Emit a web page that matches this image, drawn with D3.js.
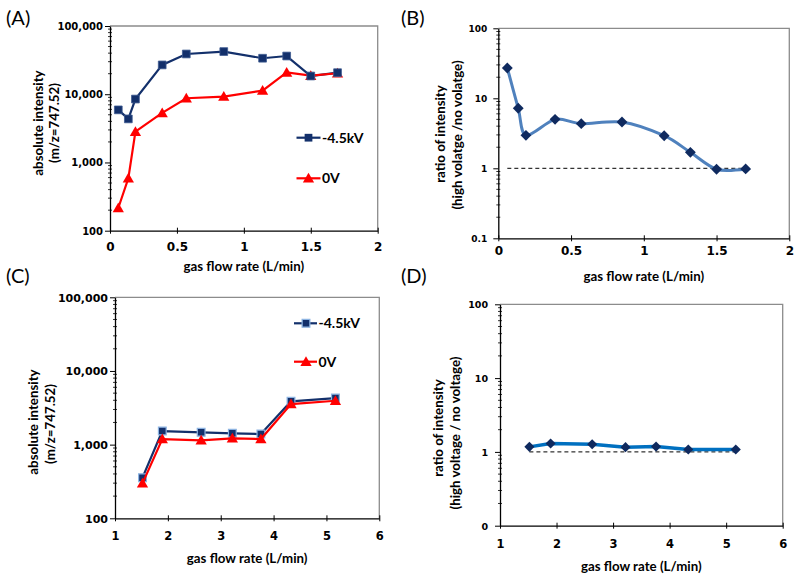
<!DOCTYPE html>
<html><head><meta charset="utf-8">
<script src="https://cdn.jsdelivr.net/npm/d3@7"></script>
<style>
body{margin:0;background:#fff;}
svg{display:block;}
.tick text{font-family:"DejaVu Sans",sans-serif;font-weight:bold;fill:#000;}
.ttl{font-family:Lato,"Open Sans",sans-serif;font-weight:bold;font-size:13.3px;fill:#000;}
.plab{font-family:Lato,"Open Sans",sans-serif;font-size:20px;fill:#000;}
.leg{font-family:Lato,"Open Sans",sans-serif;font-weight:bold;font-size:14px;fill:#000;}
</style></head>
<body>
<svg id="c" width="800" height="581"></svg>
<script>
// ---- data ----
const flowA = [0.062, 0.137, 0.19, 0.39, 0.57, 0.85, 1.14, 1.32, 1.50, 1.70];
const hvA   = [5900, 4350, 8500, 26900, 38900, 42200, 33700, 36300, 18500, 20700];
const zvA   = [215, 586, 2830, 5320, 8740, 9230, 11300, 20900, 18700, 20300];
const ratioB = [27.1, 7.2, 2.96, 5.0, 4.34, 4.58, 2.92, 1.69, 0.97, 0.98];
const flowC = [1.52, 1.895, 2.63, 3.22, 3.76, 4.33, 5.17];
const hvC   = [356, 1530, 1470, 1424, 1393, 3870, 4290];
const zvC   = [298, 1190, 1143, 1217, 1190, 3556, 3945];
const ratioD = [1.17, 1.30, 1.27, 1.16, 1.18, 1.08, 1.08];
const seriesNames = ["-4.5kV", "0V"];
const xTicksAB = [0, 0.5, 1, 1.5, 2];
const xTicksCD = [1, 2, 3, 4, 5, 6];
const yTicksInt = [100, 1000, 10000, 100000];
const yTicksRatio = [0.1, 1, 10, 100];

const svg = d3.select("#c");
const NAVY = "#13306b", RED = "#ff0000";

function panel(o){
  const g = svg.append("g");
  const x = d3.scaleLinear().domain(o.xd).range([o.l, o.r]);
  const y = d3.scaleLog().domain(o.yd).range([o.b, o.t]);
  g.append("path").attr("d",`M${o.l},${o.t}H${o.r}V${o.b}`).attr("fill","none").attr("stroke","#8c8c8c").attr("stroke-width",1.3);
  const minors = [];
  const [y0,y1] = o.yd;
  for(let e=Math.round(Math.log10(y0)); e<Math.round(Math.log10(y1)); e++){
    for(let k=2;k<10;k++) minors.push(k*Math.pow(10,e));
  }
  g.selectAll(".mn").data(minors).join("line")
    .attr("x1",o.l-2).attr("x2",o.l+2).attr("y1",d=>y(d)).attr("y2",d=>y(d))
    .attr("stroke","#000").attr("stroke-width",0.8);
  const ya = g.append("g").attr("transform",`translate(${o.l},0)`)
    .call(d3.axisLeft(y).tickValues(o.yt).tickFormat(o.yf).tickSizeInner(5).tickSizeOuter(0).tickPadding(o.ypad));
  ya.select(".domain").attr("stroke","#000").attr("stroke-width",1.3);
  ya.selectAll(".tick line").attr("stroke","#000").attr("stroke-width",1);
  ya.selectAll(".tick text").attr("font-size",o.yfs+"px").attr("dy","0.35em");
  const xa = g.append("g").attr("transform",`translate(0,${o.b})`)
    .call(d3.axisBottom(x).tickValues(o.xt).tickFormat(d=>d3.format("~g")(d)).tickSizeInner(3).tickSizeOuter(0).tickPadding(o.xpad));
  xa.select(".domain").attr("stroke","#000").attr("stroke-width",1.3);
  xa.selectAll(".tick line").attr("y1",-3).attr("stroke","#000");
  xa.selectAll(".tick text").attr("font-size",o.xfs+"px");
  g.append("text").attr("class","ttl").attr("x",(o.l+o.r)/2).attr("y",o.xty).attr("text-anchor","middle").text("gas flow rate (L/min)");
  o.ytl.forEach((t,i)=>{
    g.append("text").attr("class","ttl").attr("text-anchor","middle")
      .attr("transform",`translate(${o.ytx[i]},${o.yty[i]}) rotate(-90)`).attr("dy","0.35em").text(t);
  });
  g.append("text").attr("class","plab").attr("x",o.px).attr("y",o.py).text(o.lab);
  return {g,x,y};
}

const fmtInt = d3.format(",");
function sym(type,size){ return d3.symbol().type(type).size(size)(); }

// ---------- A ----------
{
  const P = panel({l:110,r:377.7,t:26,b:230.7,xd:[0,2],yd:[100,100000],xt:xTicksAB,yt:yTicksInt,yf:fmtInt,ypad:2,yfs:10,xfs:12,xpad:8.5,
    xty:271,ytl:["absolute intensity","(m/z=747.52)"],ytx:[38,54],yty:[123,123],px:6,py:25,lab:"(A)"});
  const line = d3.line().x(d=>P.x(d[0])).y(d=>P.y(d[1]));
  const dh = flowA.map((f,i)=>[f,hvA[i]]), dz = flowA.map((f,i)=>[f,zvA[i]]);
  P.g.append("path").attr("d",line(dh)).attr("fill","none").attr("stroke",NAVY).attr("stroke-width",2.2);
  P.g.append("path").attr("d",line(dz)).attr("fill","none").attr("stroke",RED).attr("stroke-width",2.2);
  P.g.selectAll(".mz").data(dz).join("path").attr("d",sym(d3.symbolTriangle,55)).attr("transform",d=>`translate(${P.x(d[0])},${P.y(d[1])+1})`).attr("fill",RED);
  P.g.selectAll(".mh").data(dh).join("path").attr("d",sym(d3.symbolSquare,60)).attr("transform",d=>`translate(${P.x(d[0])},${P.y(d[1])})`).attr("fill",NAVY).attr("stroke","#3d5a91").attr("stroke-width",0.8);
  const lg=[[NAVY,d3.symbolSquare,60,137.7],[RED,d3.symbolTriangle,55,178.3]];
  lg.forEach((L,i)=>{
    P.g.append("line").attr("x1",296.5).attr("x2",320.5).attr("y1",L[3]).attr("y2",L[3]).attr("stroke",L[0]).attr("stroke-width",2.2);
    P.g.append("path").attr("d",sym(L[1],L[2])).attr("transform",`translate(308.5,${L[3]+(i?1:0)})`).attr("fill",L[0]);
    P.g.append("text").attr("class","leg").attr("x",322).attr("y",L[3]).attr("dy","0.36em").text(seriesNames[i]);
  });
}
// ---------- B ----------
{
  const P = panel({l:498.3,r:789.3,t:28.3,b:238.3,xd:[0,2],yd:[0.1,100],xt:xTicksAB,yt:yTicksRatio,yf:d=>d3.format("~g")(d),ypad:6,yfs:9,xfs:12,xpad:5,
    xty:281,ytl:["ratio of intensity","(high volatge /no volatge)"],ytx:[440,457.5],yty:[134,135],px:401,py:25,lab:"(B)"});
  const db = flowA.map((f,i)=>[f,ratioB[i]]);
  P.g.append("line").attr("x1",P.x(flowA[0])).attr("x2",P.x(flowA[flowA.length-1])).attr("y1",P.y(1)).attr("y2",P.y(1))
    .attr("stroke","#000").attr("stroke-width",1).attr("stroke-dasharray","4,3");
  const line = d3.line().x(d=>P.x(d[0])).y(d=>P.y(d[1])).curve(d3.curveCardinal.tension(0.1));
  P.g.append("path").attr("d",line(db)).attr("fill","none").attr("stroke","#4f81bd").attr("stroke-width",3);
  P.g.selectAll(".md").data(db).join("path").attr("d",sym(d3.symbolDiamond2,75)).attr("transform",d=>`translate(${P.x(d[0])},${P.y(d[1])})`).attr("fill","#0f2a5f");
}
// ---------- C ----------
{
  const P = panel({l:115,r:379.3,t:297.3,b:518.3,xd:[1,6],yd:[100,100000],xt:xTicksCD,yt:yTicksInt,yf:fmtInt,ypad:2,yfs:11,xfs:11.5,xpad:11,
    xty:563,ytl:["absolute intensity","(m/z=747.52)"],ytx:[33.5,50],yty:[422,424],px:6,py:283,lab:"(C)"});
  const line = d3.line().x(d=>P.x(d[0])).y(d=>P.y(d[1]));
  const dh = flowC.map((f,i)=>[f,hvC[i]]), dz = flowC.map((f,i)=>[f,zvC[i]]);
  P.g.append("path").attr("d",line(dh)).attr("fill","none").attr("stroke",NAVY).attr("stroke-width",2.2).attr("stroke-linejoin","round");
  P.g.selectAll(".mh").data(dh).join("path").attr("d",sym(d3.symbolSquare,60)).attr("transform",d=>`translate(${P.x(d[0])},${P.y(d[1])})`).attr("fill",NAVY).attr("stroke","#8db4e2").attr("stroke-width",1.2);
  P.g.append("path").attr("d",line(dz)).attr("fill","none").attr("stroke",RED).attr("stroke-width",2.2);
  P.g.selectAll(".mz").data(dz).join("path").attr("d",sym(d3.symbolTriangle,55)).attr("transform",d=>`translate(${P.x(d[0])},${P.y(d[1])+1})`).attr("fill",RED);
  const lg=[[NAVY,d3.symbolSquare,60,323.3],[RED,d3.symbolTriangle,55,361.7]];
  lg.forEach((L,i)=>{
    P.g.append("line").attr("x1",294).attr("x2",317).attr("y1",L[3]).attr("y2",L[3]).attr("stroke",L[0]).attr("stroke-width",2.2);
    P.g.append("path").attr("d",sym(L[1],L[2])).attr("transform",`translate(306,${L[3]+(i?1:0)})`).attr("fill",L[0]).attr("stroke",i?"none":"#8db4e2").attr("stroke-width",1.2);
    P.g.append("text").attr("class","leg").attr("x",318.5).attr("y",L[3]).attr("dy","0.36em").text(seriesNames[i]);
  });
}
// ---------- D ----------
{
  const P = panel({l:500,r:782.7,t:304.3,b:525.7,xd:[1,6],yd:[0.1,100],xt:xTicksCD,yt:yTicksRatio,yf:d=>d<1?"0":d3.format("~g")(d),ypad:7,yfs:9.5,xfs:11.5,xpad:11.5,
    xty:571,ytl:["ratio of intensity","(high voltage / no voltage)"],ytx:[438.5,455],yty:[428,433],px:401,py:283,lab:"(D)"});
  const dd = flowC.map((f,i)=>[f,ratioD[i]]);
  P.g.append("line").attr("x1",P.x(flowC[0])).attr("x2",P.x(flowC[flowC.length-1])).attr("y1",P.y(1)).attr("y2",P.y(1))
    .attr("stroke","#000").attr("stroke-width",1).attr("stroke-dasharray","4,3");
  const line = d3.line().x(d=>P.x(d[0])).y(d=>P.y(d[1]));
  P.g.append("path").attr("d",line(dd)).attr("fill","none").attr("stroke","#0070c0").attr("stroke-width",3.5).attr("stroke-linejoin","round");
  P.g.selectAll(".md").data(dd).join("path").attr("d",sym(d3.symbolDiamond2,65)).attr("transform",d=>`translate(${P.x(d[0])},${P.y(d[1])})`).attr("fill","#0f2a5f");
}
</script>
</body></html>
